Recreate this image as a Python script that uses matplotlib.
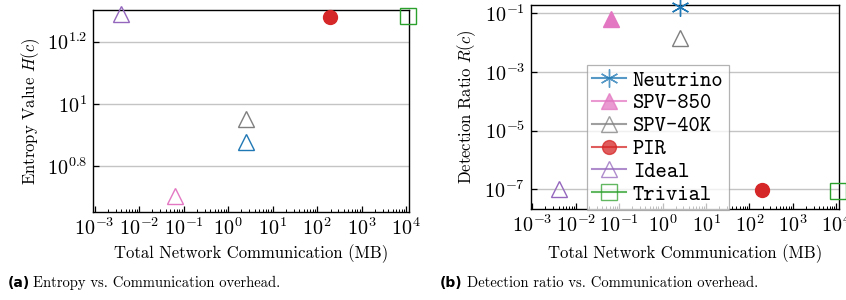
import numpy as np
import matplotlib
import matplotlib.pyplot as plt
import matplotlib.ticker as mticker

plt.rcParams["font.family"] = "cmr10"
plt.rcParams["mathtext.fontset"] = "cm"
plt.rcParams["axes.formatter.use_mathtext"] = True

# ── données ─────────────────────────────────────────────────────────────
schemes = ["Neutrino", "SPV-850", "SPV-40K", "PIR", "Ideal", "Trivial"]
comm_mb = [2.5, 0.065, 2.5, 195, 4.0e-3, 1.1e4]
entropy = [7.55, 5.06, 8.93, 19.1, 19.4, 19.15]
detect = [0.17, 0.065, 0.014, 9.5e-8, 1.04e-7, 9.0e-8]

colors = ["#1f77b4", "#e377c2", "#7f7f7f", "#d62728", "#9467bd", "#2ca02c"]
# marqueurs (panneau b) : marker, rempli, taille
markers_b = [((6, 2, 0), True, 13), ("^", True, 11), ("^", False, 11),
             ("o", True, 10), ("^", False, 11), ("s", False, 12)]
markers_a = [("^", False, 11), ("^", False, 11), ("^", False, 11),
             ("o", True, 10), ("^", False, 11), ("s", False, 12)]

fig = plt.figure(figsize=(8.46, 3.0), dpi=100)
ax_a = fig.add_axes([0.1096, 0.2943, 0.3742, 0.6723])
ax_b = fig.add_axes([0.6273, 0.3033, 0.3648, 0.6810])

GRID = "#c4c4c4"
TICK_FS = 14.5


def draw(ax, yvals, mk):
    lines = []
    for name, x, y, c, (m, filled, ms) in zip(schemes, comm_mb, yvals, colors, mk):
        ln, = ax.plot([x], [y], marker=m, ms=ms, color=c, linestyle="-", lw=1.5,
                      markerfacecolor=c if filled else "none", markeredgecolor=c,
                      markeredgewidth=1.0, clip_on=False, zorder=3, label=name)
        lines.append(ln)
    ax.set_xscale("log")
    ax.set_yscale("log")
    ax.set_xlim(10 ** -3.04, 10 ** 4.07)
    ax.xaxis.set_major_locator(mticker.FixedLocator([10.0 ** k for k in range(-3, 5)]))
    ax.xaxis.set_minor_locator(mticker.LogLocator(base=10, subs=np.arange(2, 10), numticks=20))
    ax.xaxis.set_minor_formatter(mticker.NullFormatter())
    ax.xaxis.set_major_formatter(mticker.FuncFormatter(lambda v, _: rf"$10^{{{int(round(np.log10(v)))}}}$"))
    ax.yaxis.set_minor_locator(mticker.NullLocator())
    ax.tick_params(axis="both", which="major", direction="in", length=4.5, width=0.9,
                   labelsize=TICK_FS, pad=4, top=False, right=False)
    ax.tick_params(axis="x", which="minor", direction="in", length=2.5, width=0.7,
                   top=False)
    ax.grid(axis="y", which="major", color=GRID, lw=1.0, zorder=0)
    ax.set_axisbelow(True)
    for s in ax.spines.values():
        s.set_linewidth(1.0)
    ax.set_xlabel("Total Network Communication (MB)", fontsize=12)
    return lines


# ── (a) entropie ─────────────────────────────────────────────────────────
draw(ax_a, entropy, markers_a)
ax_a.set_ylim(10 ** 0.653, 10 ** 1.302)
yt_a = [0.8, 1.0, 1.2]
ax_a.yaxis.set_major_locator(mticker.FixedLocator([10 ** v for v in yt_a]))
ax_a.yaxis.set_major_formatter(mticker.FixedFormatter([r"$10^{0.8}$", r"$10^{1}$", r"$10^{1.2}$"]))
ax_a.set_ylabel(r"Entropy Value $H(c)$", fontsize=12)
ax_a.yaxis.set_label_coords(-0.16, 0.5)
ax_a.xaxis.set_label_coords(0.5, -0.16)

# ── (b) taux de détection ────────────────────────────────────────────────
lines = draw(ax_b, detect, markers_b)
ax_b.set_ylim(10 ** -7.67, 10 ** -0.707)
ax_b.yaxis.set_major_locator(mticker.FixedLocator([1e-1, 1e-3, 1e-5, 1e-7]))
ax_b.yaxis.set_major_formatter(mticker.FuncFormatter(lambda v, _: rf"$10^{{{int(round(np.log10(v)))}}}$"))
ax_b.set_ylabel(r"Detection Ratio $R(c)$", fontsize=12)
ax_b.yaxis.set_label_coords(-0.17, 0.5)
ax_b.xaxis.set_label_coords(0.5, -0.175)

leg = ax_b.legend(handles=lines, loc="lower left", bbox_to_anchor=(0.181, -0.006),
                  borderaxespad=0, prop={"family": "cmtt10", "size": 15.5},
                  handlelength=1.6, handletextpad=0.3, labelspacing=0.13,
                  borderpad=0.25, frameon=True, fancybox=False, framealpha=0.75,
                  edgecolor="#9a9a9a")
leg.get_frame().set_linewidth(0.9)
for h in leg.legend_handles:
    h.set_alpha(0.75)

# ── légendes de figure ───────────────────────────────────────────────────
fig.text(0.0086, 0.057, "(a)", family="DejaVu Sans", fontweight="bold", fontsize=10, va="center")
fig.text(0.0394, 0.057, "Entropy vs. Communication overhead.", fontsize=10.5, va="center")
fig.text(0.520, 0.057, "(b)", family="DejaVu Sans", fontweight="bold", fontsize=10, va="center")
fig.text(0.5524, 0.057, "Detection ratio vs. Communication overhead.", fontsize=10.5, va="center")

plt.savefig("out.png", dpi=100)
